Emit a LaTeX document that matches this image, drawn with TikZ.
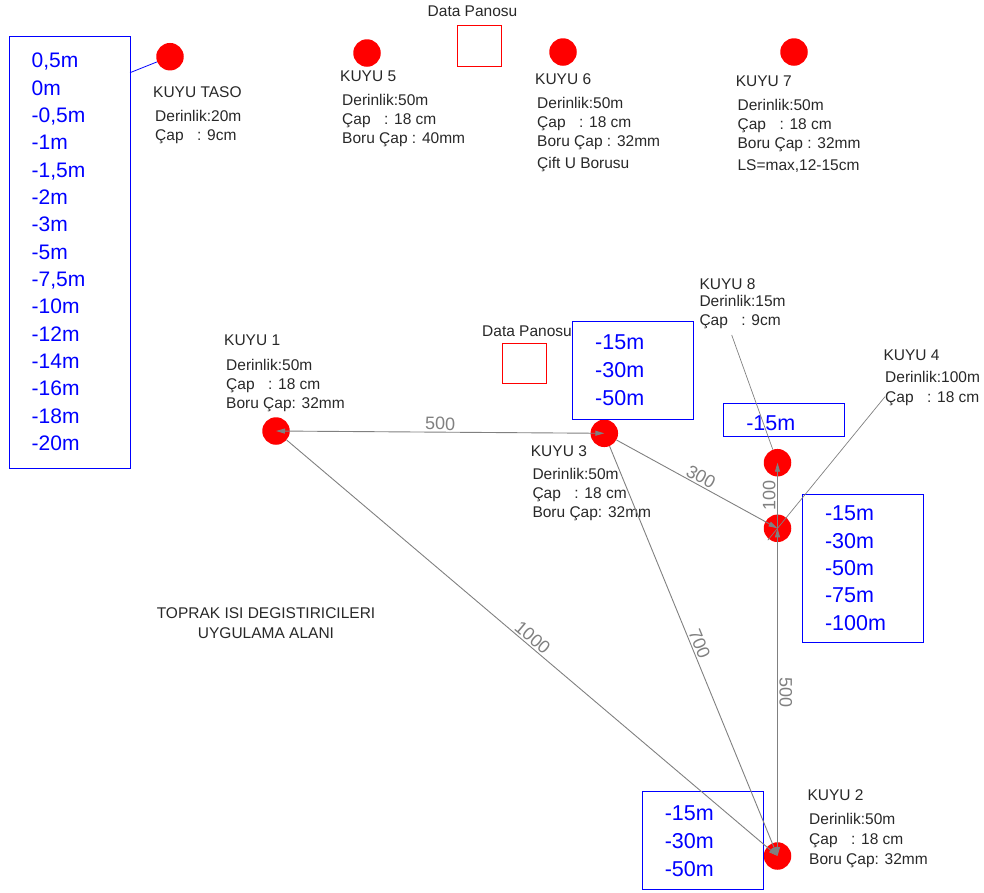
\documentclass[tikz,border=0pt]{standalone}
\usepackage{fontspec}
\setmainfont{Liberation Sans}
\usepackage{tikz}
\usetikzlibrary{arrows.meta, calc}
\definecolor{kuyured}{RGB}{255, 0, 0}
\definecolor{olcu}{RGB}{128, 128, 128}
\definecolor{yazi}{RGB}{40, 40, 40}
\newcommand{\capsp}{\hspace{13.5pt}}

\begin{document}
\begin{tikzpicture}[x=1pt, y=-1pt, >={Triangle[length=9pt, width=5pt]},
  every node/.style={inner sep=0pt, text=yazi, font=\fontsize{15.5}{19}\selectfont},
  kuyu/.style={circle, fill=kuyured, minimum size=27.5pt},
  baslik/.style={anchor=west},
  bilgi/.style={anchor=north west, align=left},
  derinlik/.style={draw=blue, line width=1pt, text=blue, align=left, inner xsep=22.5pt,
                   text width=76pt, font=\fontsize{21.5}{28}\selectfont},
  pano/.style={draw=red, line width=0.8pt, minimum width=44pt, minimum height=40pt},
  hat/.style={draw=olcu, line width=0.9pt},
  mesafe/.style={text=olcu, font=\fontsize{18}{18}\selectfont, sloped, above, inner sep=1.5pt}]
  \useasboundingbox (0,0) rectangle (984,892);

  % kuyular
  \foreach \n/\p in {taso/{(170,56.7)}, k5/{(367,53)}, k6/{(563,52)}, k7/{(794,52)},
                     k1/{(276,431)}, k3/{(604.3,433.3)}, k8/{(777.5,462.7)},
                     k4/{(777.5,528.3)}, k2/{(777.5,856)}}
    \node[kuyu] (\n) at \p {};

  % kuyu yazilari
  \node[baslik] (tasoad) at (153,92.3) {KUYU TASO};
  \node[bilgi] (tasobilgi) at (155,110) {Derinlik:20m\\Çap\capsp : 9cm};
  \node[baslik] (k5ad) at (340,76.5) {KUYU 5};
  \node[bilgi] (k5bilgi) at (342,94) {Derinlik:50m\\Çap\capsp : 18 cm\\Boru Çap : 40mm};
  \node[baslik] (k6ad) at (535,79) {KUYU 6};
  \node[bilgi] (k6bilgi) at (537,97.3) {Derinlik:50m\\Çap\capsp : 18 cm\\Boru Çap : 32mm\\[3pt]Çift U Borusu};
  \node[baslik] (k7ad) at (735.6,81) {KUYU 7};
  \node[bilgi] (k7bilgi) at (737.4,99) {Derinlik:50m\\Çap\capsp : 18 cm\\Boru Çap : 32mm\\[3pt]LS=max,12-15cm};
  \node[baslik] (k1ad) at (224,340.7) {KUYU 1};
  \node[bilgi] (k1bilgi) at (226,359) {Derinlik:50m\\Çap\capsp : 18 cm\\Boru Çap: 32mm};
  \node[baslik] (k3ad) at (530.7,450.7) {KUYU 3};
  \node[bilgi] (k3bilgi) at (532.3,468) {Derinlik:50m\\Çap\capsp : 18 cm\\Boru Çap: 32mm};
  \node[baslik] (k8ad) at (699.3,284.3) {KUYU 8};
  \node[bilgi] (k8bilgi) at (699.3,295) {Derinlik:15m\\Çap\capsp : 9cm};
  \node[baslik] (k4ad) at (883.3,355) {KUYU 4};
  \node[bilgi, font=\fontsize{15.5}{20}\selectfont] (k4bilgi) at (885,370.7) {Derinlik:100m\\Çap\capsp : 18 cm};
  \node[baslik] (k2ad) at (807.3,795) {KUYU 2};
  \node[bilgi, font=\fontsize{15.5}{20}\selectfont] (k2bilgi) at (809,813.3) {Derinlik:50m\\Çap\capsp : 18 cm\\Boru Çap: 32mm};

  % data panolari
  \node[pano, minimum height=40.5pt] (pano1) at (479.5,45.75) {};
  \node (pano1ad) at (472.5,11) {Data Panosu};
  \node[pano] (pano2) at (524.7,363.3) {};
  \node (pano2ad) at (527,331.7) {Data Panosu};

  \node[align=center, font=\fontsize{15.5}{20}\selectfont] (alan) at (266,623)
    {TOPRAK ISI DEGISTIRICILERI\\UYGULAMA ALANI};

  % derinlik kutulari
  \node[derinlik, minimum height=432pt, font=\fontsize{21}{27.35}\selectfont] (tasokutu) at (69.7,252)
    {0,5m\\0m\\-0,5m\\-1m\\-1,5m\\-2m\\-3m\\-5m\\-7,5m\\-10m\\-12m\\-14m\\-16m\\-18m\\-20m};
  \node[derinlik, minimum height=98pt] (k3kutu) at (633.2,370.2) {-15m\\-30m\\-50m};
  \node[derinlik, minimum height=33pt, text height=21pt] (k8kutu) at (784.3,419.7) {-15m};
  \node[derinlik, minimum height=147.7pt, font=\fontsize{21.5}{27.3}\selectfont] (k4kutu) at (863,568.2)
    {-15m\\-30m\\-50m\\-75m\\-100m};
  \node[derinlik, minimum height=98.3pt] (k2kutu) at (702.8,840.8) {-15m\\-30m\\-50m};

  % isaret cizgileri
  \coordinate (tasoucu) at (130,72.7);
  \draw[blue, line width=0.8pt] (tasoucu) -- (taso);
  \coordinate (k8ucu) at (731.7,335);
  \draw[hat, line width=0.7pt] (k8ucu) -- (k8);
  \coordinate (k4ucu) at (885,396.7);
  \draw[hat, line width=0.7pt] (k4ucu) -- ($(k4ucu)!1.09!(k4.center)$);

  % mesafeler
  \draw[hat, <->] (k1.center) -- node[mesafe] {500} (k3.center);
  \draw[hat, ->] (k3) -- node[mesafe] {300} (k4.center);
  \draw[hat, ->] (k4.center) -- node[mesafe] {100} (k8.center);
  \draw[hat, <->] (k4.center) -- node[mesafe] {500} (k2.center);
  \draw[hat, ->] (k1) -- node[mesafe, pos=0.49] {1000} (k2.center);
  \draw[hat, ->] (k3) -- node[mesafe, pos=0.49] {700} (k2.center);
\end{tikzpicture}
\end{document}
